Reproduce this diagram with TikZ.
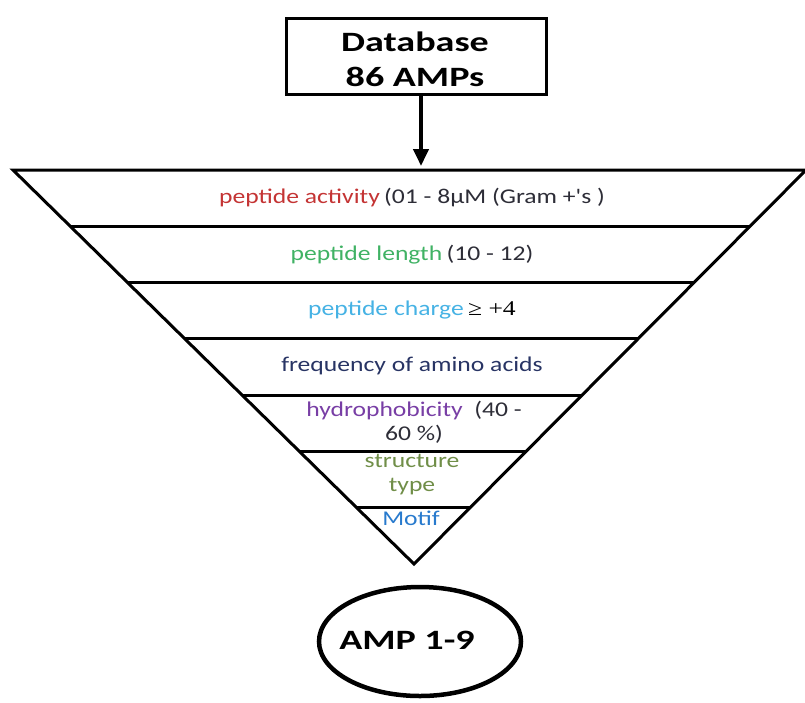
\documentclass[tikz,border=0pt]{standalone}
\usepackage{fontspec}
\setmainfont{Carlito}[Ligatures=TeXOff]
\newfontfamily\serifsym{Liberation Serif}
\usepackage{graphicx}
\usetikzlibrary{arrows.meta,calc,shapes.geometric}
\definecolor{cred}{RGB}{196,52,52}
\definecolor{cgreen}{RGB}{64,178,100}
\definecolor{cblue}{RGB}{70,178,228}
\definecolor{cnavy}{RGB}{40,52,100}
\definecolor{cpurple}{RGB}{120,62,165}
\definecolor{colive}{RGB}{112,142,72}
\definecolor{cmotif}{RGB}{40,122,205}
\definecolor{cdark}{RGB}{45,45,55}
\newcommand{\hs}[1]{\scalebox{1.22}[1]{#1}}
\newcommand{\hb}[1]{\scalebox{1.36}[1]{#1}}
\begin{document}
\begin{tikzpicture}[x=1pt,y=-1pt,
  band/.style={line width=3pt},
  lbl/.style={font=\fontsize{21}{24}\selectfont, text=cdark, align=center, inner sep=0},
  big/.style={font=\bfseries\fontsize{28}{35}\selectfont, align=center, inner sep=0}]
\useasboundingbox (0,0) rectangle (805,702);
\node[draw, line width=3.5pt, minimum width=260pt, minimum height=76pt, inner sep=0] (db) at (416.5,56.5) {};
\node[big] (dbt) at (415,59.5) {\hb{Database}\\\hb{86 AMPs}};
\coordinate (tl) at (13,170);
\coordinate (tr) at (806,170);
\coordinate (ap) at (414,564);
\coordinate (in) at (421,166);
\draw[band, line join=miter] (tl) -- (tr) -- (ap) -- cycle;
\foreach \k in {1,...,6}
  \draw[band] ($(tl)!\k/7!(ap)$) -- ($(tr)!\k/7!(ap)$);
\draw[line width=4pt, -{Triangle[width=15pt,length=17pt]}] (db.south -| in) -- (in);
\node[lbl] (l1) at (412,198) {\hs{\textcolor{cred}{peptide activity}\,(01 - 8µM (Gram +'s )}};
\node[lbl] (l2) at (412,255) {\hs{\textcolor{cgreen}{peptide length}\,(10 - 12)}};
\node[lbl] (l3) at (412,310) {\hs{\textcolor{cblue}{peptide charge}\,{\serifsym\color{black}≥ +4}}};
\node[lbl] (l4) at (412,366) {\hs{\textcolor{cnavy}{frequency of amino acids}}};
\node[lbl] (l5) at (414,422) {\hs{\textcolor{cpurple}{hydrophobicity}\ \ (40 -}\\\hs{60 \%)}};
\node[lbl, text=colive] (l6) at (412,475) {\hs{structure}\\\hs{type}};
\node[lbl, text=cmotif] (l7) at (411,518) {\hs{Motif}};
\node[draw, ellipse, line width=4.5pt, minimum width=202pt, minimum height=109pt, inner sep=0] (amp) at (420,641.5) {};
\node[big] (ampt) at (407,640) {\hb{AMP 1-9}};
\end{tikzpicture}
\end{document}
